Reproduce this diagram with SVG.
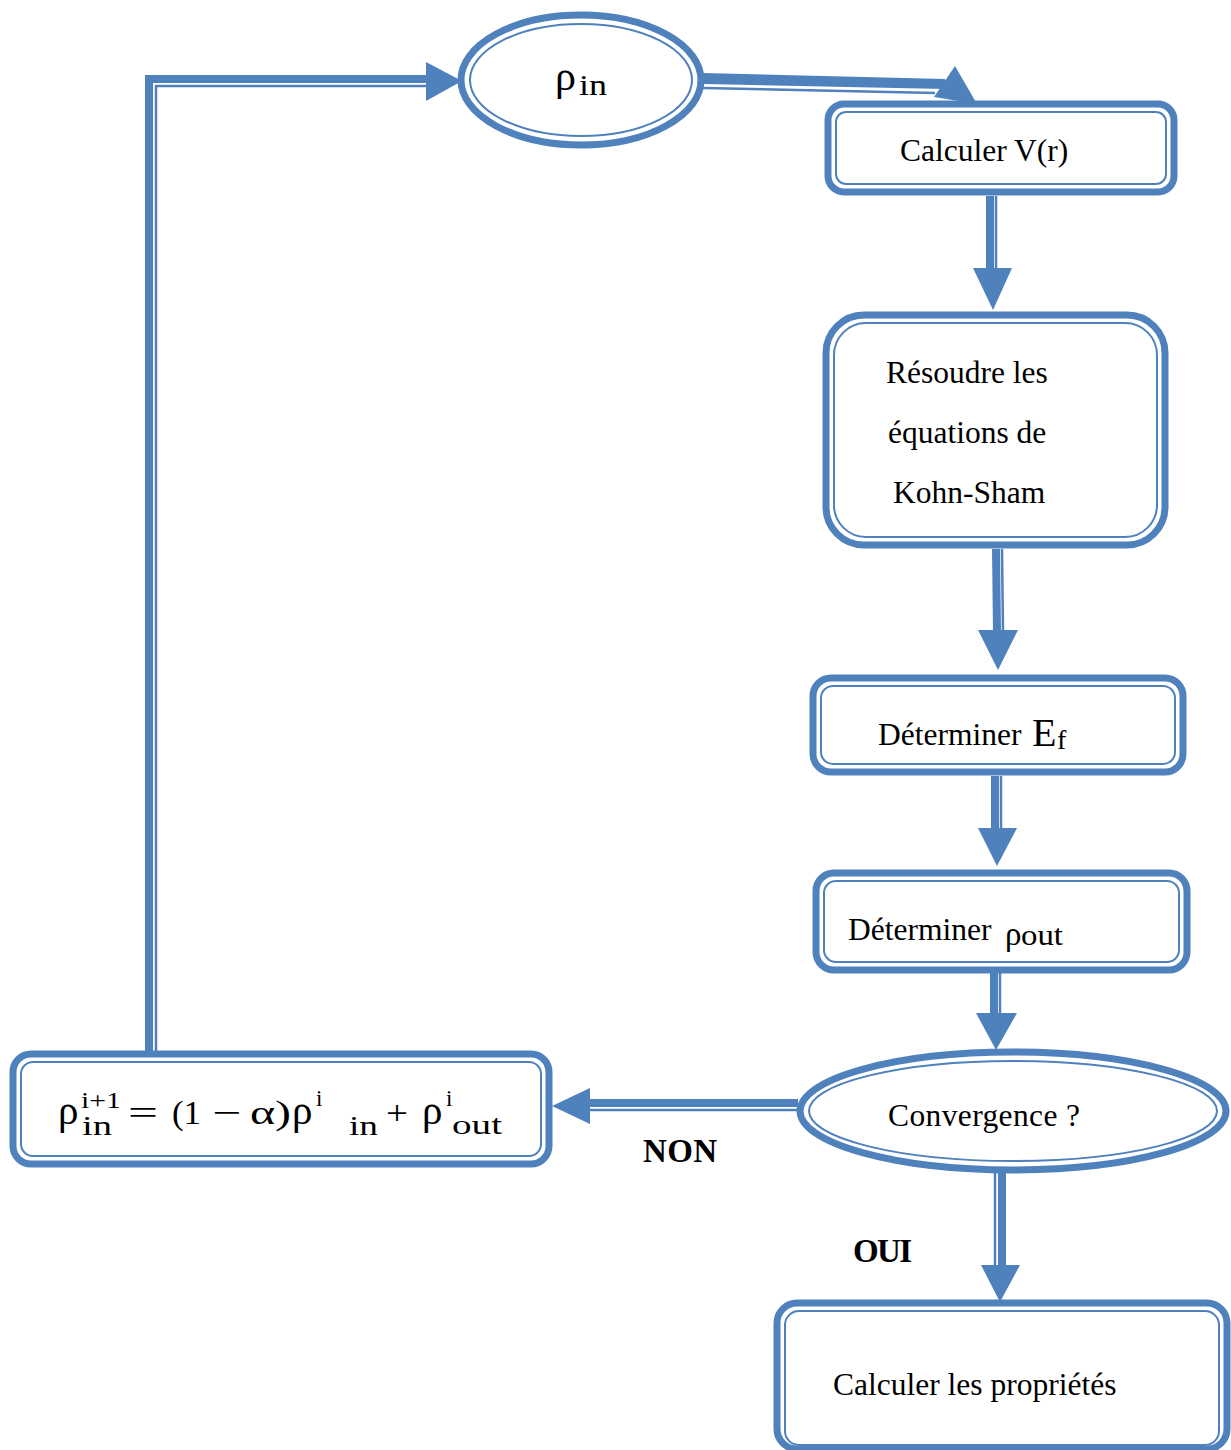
<svg xmlns="http://www.w3.org/2000/svg" width="1231" height="1450" viewBox="0 0 1231 1450">
<style>
.o{fill:#fff;stroke:#4F81BD;stroke-width:7}
.i{fill:none;stroke:#4F81BD;stroke-width:2}
.t{font-family:"Liberation Serif","Times New Roman",serif;font-size:31.5px;fill:#000}
.m{font-family:"Liberation Serif","Times New Roman",serif;fill:#000}
.b{font-family:"Liberation Serif","Times New Roman",serif;font-weight:bold;font-size:33px;fill:#000}
.thick{stroke:#4F81BD;stroke-width:8;fill:none}
.thin{stroke:#4F81BD;stroke-width:2.5;fill:none}
.h{fill:#4F81BD}
</style>
<g id="connectors">
  <!-- formula -> rho_in -->
  <polyline class="thick" points="149,1052 149,79 430,79"/>
  <polyline class="thin" points="156,1052 156,86 430,86"/>
  <polygon class="h" points="426,62 462,81 426,101"/>
  <!-- rho_in -> V(r) -->
  <polygon class="h" points="703,73 945,79 945,89 703,84"/>
  <line class="thin" x1="703" y1="88" x2="935" y2="93"/>
  <polygon class="h" points="955,66 977,104 934,97"/>
  <!-- V(r) -> Resoudre -->
  <line class="thick" x1="990" y1="196" x2="990" y2="270"/>
  <line class="thin" x1="996" y1="196" x2="996" y2="270"/>
  <polygon class="h" points="973,268 1012,268 993,310"/>
  <!-- Resoudre -> Ef -->
  <line class="thick" x1="996" y1="549" x2="997" y2="632"/>
  <line class="thin" x1="1002" y1="549" x2="1003" y2="632"/>
  <polygon class="h" points="978,630 1018,630 998,670"/>
  <!-- Ef -> rho_out -->
  <line class="thick" x1="995" y1="776" x2="995" y2="830"/>
  <line class="thin" x1="1001" y1="776" x2="1001" y2="830"/>
  <polygon class="h" points="978,828 1017,828 997,866"/>
  <!-- rho_out -> Convergence -->
  <line class="thick" x1="994" y1="973" x2="994" y2="1015"/>
  <line class="thin" x1="1000" y1="973" x2="1000" y2="1015"/>
  <polygon class="h" points="976,1013 1017,1013 996,1050"/>
  <!-- Convergence -> formula (NON) -->
  <line class="thick" x1="798" y1="1103" x2="588" y2="1103"/>
  <line class="thin" x1="798" y1="1110" x2="588" y2="1110"/>
  <polygon class="h" points="590,1088 590,1124 552,1106"/>
  <!-- Convergence -> proprietes (OUI) -->
  <line class="thin" x1="995" y1="1173" x2="995" y2="1268"/>
  <line class="thick" x1="1002" y1="1173" x2="1002" y2="1268"/>
  <polygon class="h" points="981,1265 1020,1265 1000,1302"/>
</g>
<g id="node-rho-in">
  <ellipse class="o" cx="581" cy="80" rx="120" ry="65"/>
  <ellipse class="i" cx="581" cy="80" rx="111" ry="56"/>
  <text class="m" x="555" y="90" font-size="42">ρ</text>
  <text class="m" x="579" y="95" font-size="29" textLength="28" lengthAdjust="spacingAndGlyphs">in</text>
</g>
<g id="node-calculer-v">
  <rect class="o" x="828" y="104" width="346" height="88" rx="16"/>
  <rect class="i" x="836" y="112" width="330" height="72" rx="10"/>
  <text class="t" x="900" y="161">Calculer V(r)</text>
</g>
<g id="node-resoudre">
  <rect class="o" x="826" y="315" width="339" height="230" rx="38"/>
  <rect class="i" x="834" y="323" width="323" height="214" rx="32"/>
  <text class="t" x="886" y="383">Résoudre les</text>
  <text class="t" x="888" y="443">équations de</text>
  <text class="t" x="893" y="503">Kohn-Sham</text>
</g>
<g id="node-ef">
  <rect class="o" x="813" y="678" width="370" height="94" rx="18"/>
  <rect class="i" x="821" y="686" width="354" height="78" rx="12"/>
  <text class="t" x="878" y="745">Déterminer</text>
  <text class="m" x="1032" y="746" font-size="40">E</text>
  <text class="m" x="1057" y="749" font-size="28">f</text>
</g>
<g id="node-rho-out">
  <rect class="o" x="816" y="873" width="371" height="97" rx="18"/>
  <rect class="i" x="824" y="881" width="355" height="81" rx="12"/>
  <text class="t" x="848" y="940">Déterminer</text>
  <text class="m" x="1005" y="945" font-size="33">ρ</text>
  <text class="m" x="1021" y="945" font-size="29" textLength="42" lengthAdjust="spacingAndGlyphs">out</text>
</g>
<g id="node-convergence">
  <ellipse class="o" cx="1013" cy="1111" rx="213" ry="59"/>
  <ellipse class="i" cx="1013" cy="1111" rx="204" ry="50"/>
  <text class="t" x="888" y="1126" textLength="192">Convergence ?</text>
</g>
<g id="node-formula">
  <rect class="o" x="13" y="1054" width="536" height="110" rx="18"/>
  <rect class="i" x="21" y="1062" width="520" height="94" rx="12"/>
  <text class="m" x="58" y="1124" font-size="41">ρ</text>
  <text class="m" x="81" y="1108" font-size="23" textLength="40" lengthAdjust="spacingAndGlyphs">i+1</text>
  <text class="m" x="82" y="1135" font-size="28" textLength="30" lengthAdjust="spacingAndGlyphs">in</text>
  <text class="m" x="128" y="1124" font-size="34" textLength="30" lengthAdjust="spacingAndGlyphs">=</text>
  <text class="m" x="172" y="1124" font-size="34" textLength="29" lengthAdjust="spacingAndGlyphs">(1</text>
  <text class="m" x="212" y="1124" font-size="34" textLength="29" lengthAdjust="spacingAndGlyphs">−</text>
  <text class="m" x="250" y="1124" font-size="34" textLength="41" lengthAdjust="spacingAndGlyphs">α)</text>
  <text class="m" x="292" y="1124" font-size="41">ρ</text>
  <text class="m" x="316" y="1106" font-size="23">i</text>
  <text class="m" x="349" y="1135" font-size="28" textLength="29" lengthAdjust="spacingAndGlyphs">in</text>
  <text class="m" x="386" y="1124" font-size="34" textLength="22" lengthAdjust="spacingAndGlyphs">+</text>
  <text class="m" x="422" y="1124" font-size="41">ρ</text>
  <text class="m" x="446" y="1106" font-size="23">i</text>
  <text class="m" x="452" y="1134" font-size="28" textLength="50" lengthAdjust="spacingAndGlyphs">out</text>
</g>
<g id="node-proprietes">
  <rect class="o" x="777" y="1303" width="450" height="146" rx="20"/>
  <rect class="i" x="785" y="1311" width="434" height="134" rx="14"/>
  <text class="t" x="833" y="1395">Calculer les propriétés</text>
</g>
<text class="b" x="643" y="1162" textLength="74">NON</text>
<text class="b" x="853" y="1262" textLength="59">OUI</text>
</svg>
